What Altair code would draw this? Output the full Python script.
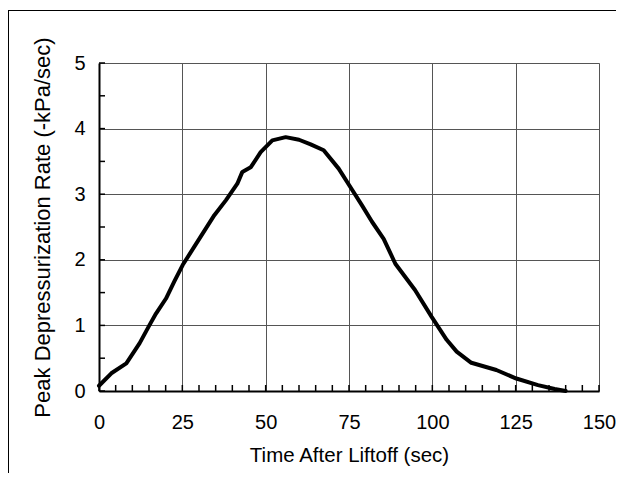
import altair as alt
import pandas as pd

# Curve
time_s = [0, 3.7, 8.2, 12.2, 15.1, 17.1, 20.1, 22.6, 25.1, 28.6, 34.6, 38.1, 41.5, 43.0,
          45.5, 48.5, 52.0, 56.0, 60.0, 63.5, 67.4, 71.9, 75.4, 78.9, 81.9, 85.4, 88.9,
          94.8, 99.8, 104.3, 107.3, 111.7, 119.2, 125.2, 131.7, 136.7, 140]
rate = [0.08, 0.27, 0.42, 0.73, 1.0, 1.18, 1.41, 1.67, 1.92, 2.20, 2.68, 2.91, 3.16, 3.34,
        3.41, 3.64, 3.82, 3.87, 3.83, 3.76, 3.67, 3.39, 3.11, 2.83, 2.58, 2.32, 1.94,
        1.54, 1.13, 0.78, 0.60, 0.43, 0.32, 0.19, 0.09, 0.03, 0.0]

x_labels = [0, 25, 50, 75, 100, 125, 150]
y_labels = [0, 1, 2, 3, 4, 5]
x_minor = list(range(0, 151, 5))
y_minor = [0, 0.5, 1, 1.5, 2, 2.5, 3, 3.5, 4, 4.5, 5]

W, H = 500, 328
PL, PT, PR, PB = 91, 55, 17, 82
FONT = "Liberation Sans"

df = pd.DataFrame({"t": time_s, "v": rate})
xs = alt.Scale(domain=[0, 150], nice=False, zero=False)
ys = alt.Scale(domain=[0, 5], nice=False, zero=False)

line = alt.Chart(df).mark_line(color="black", strokeWidth=4, strokeJoin="round", strokeCap="round").encode(
    x=alt.X("t:Q", scale=xs, title="Time After Liftoff (sec)",
            axis=alt.Axis(values=x_labels, format="d", grid=True, gridColor="#555", gridWidth=1,
                          ticks=False, domainColor="black", domainWidth=2,
                          labelFont=FONT, labelFontSize=20, labelColor="black",
                          labelPadding=21, labelFlush=False,
                          titleFont=FONT, titleFontSize=20.5, titleFontWeight="normal",
                          titleColor="black", titlePadding=13)),
    y=alt.Y("v:Q", scale=ys, title="Peak Depressurization Rate (-kPa/sec)",
            axis=alt.Axis(values=y_labels, format="d", grid=True, gridColor="#555", gridWidth=1,
                          ticks=False, domainColor="black", domainWidth=2,
                          labelFont=FONT, labelFontSize=20, labelColor="black",
                          labelPadding=14, labelFlush=False,
                          titleFont=FONT, titleFontSize=22, titleFontWeight="normal",
                          titleColor="black", titlePadding=19)),
)

xt = alt.Chart(pd.DataFrame({"t": x_minor})).mark_rule(color="black", strokeWidth=1.5).encode(
    x=alt.X("t:Q", scale=xs), y=alt.value(H), y2=alt.value(H - 6))
yt = alt.Chart(pd.DataFrame({"v": y_minor})).mark_rule(color="black", strokeWidth=1.5).encode(
    y=alt.Y("v:Q", scale=ys), x=alt.value(0), x2=alt.value(6))

frame_left = alt.Chart(pd.DataFrame({"a": [0]})).mark_rule(color="black", strokeWidth=1).encode(
    x=alt.value(-PL + 0.5), y=alt.value(-PT + 2), y2=alt.value(H + PB))
frame_top = alt.Chart(pd.DataFrame({"a": [0]})).mark_rule(color="black", strokeWidth=1).encode(
    y=alt.value(-PT + 2.5), x=alt.value(-PL), x2=alt.value(W + PR))

chart = alt.layer(line, xt, yt, frame_left, frame_top).properties(
    width=W, height=H,
    autosize=alt.AutoSizeParams(type="none"),
    padding={"left": PL, "top": PT, "right": PR, "bottom": PB},
).configure_view(stroke="black", strokeWidth=2).configure(background="white")

chart.save("out.html", embed_options={"renderer": "svg", "actions": False})
